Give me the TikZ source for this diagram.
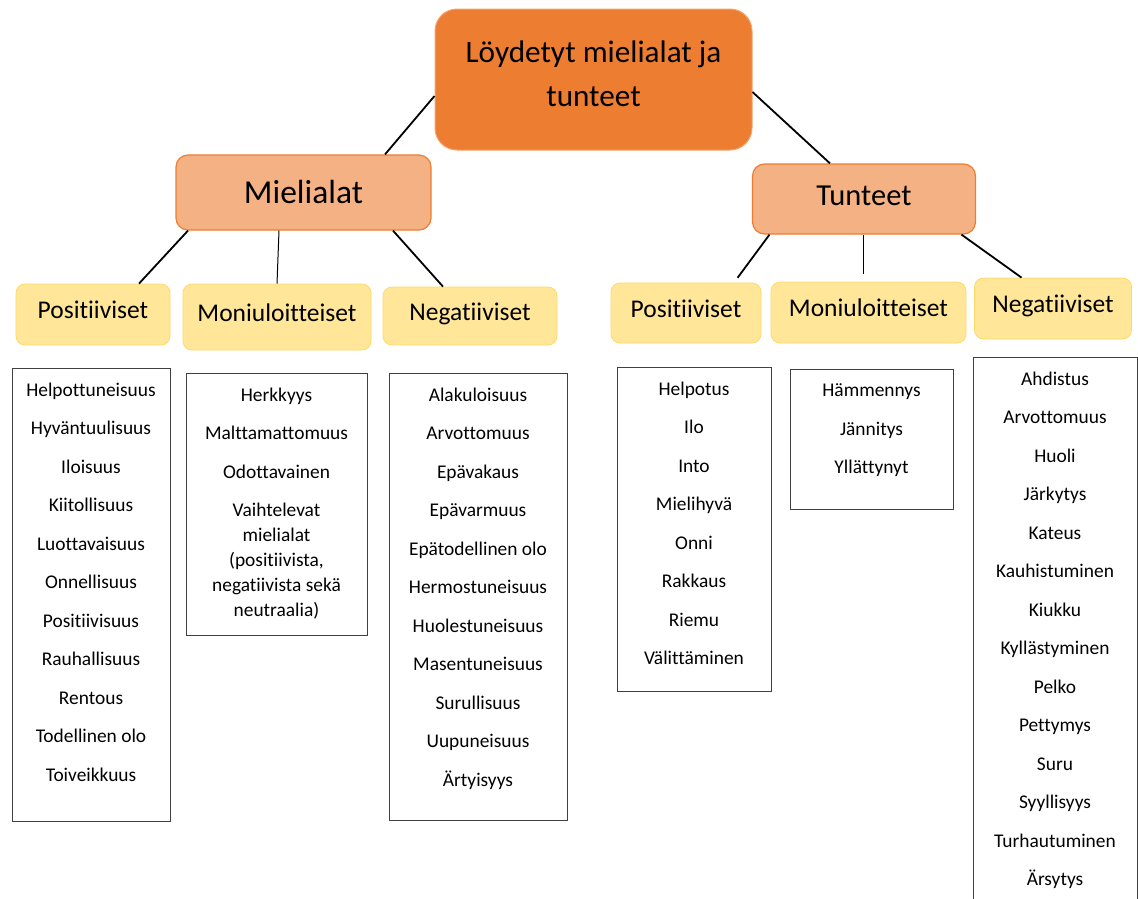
\documentclass[tikz,border=0pt]{standalone}
\usepackage{fontspec}
\setmainfont{Carlito}[Ligatures=NoCommon]
\usetikzlibrary{positioning}
\definecolor{oranssi}{RGB}{237,125,49}
\definecolor{persikka}{RGB}{244,177,131}
\definecolor{keltainen}{RGB}{255,230,153}
\definecolor{kulta}{RGB}{255,217,102}
\definecolor{reuna}{RGB}{64,64,64}

\begin{document}
\begin{tikzpicture}[x=1pt,y=-1pt,
  paa/.style={rounded corners=22pt,fill=oranssi,draw=oranssi!70!white,line width=1pt},
  paateksti/.style={align=center,inner sep=0pt,font=\fontsize{31.2}{44}\selectfont},
  ala/.style={rounded corners=12pt,fill=persikka,draw=oranssi,line width=1.2pt,text height=20pt,text depth=6.5pt},
  ryhma/.style={rounded corners=9pt,fill=keltainen,draw=kulta,line width=0.8pt,font=\fontsize{25.5}{30}\selectfont,text height=16.5pt,text depth=8.4pt},
  lista/.style={draw=reuna,fill=white,line width=1pt},
  sanat/.style={align=center,inner sep=0pt,font=\fontsize{19.4}{25}\selectfont,execute at begin node=\strut},
  link/.style={line width=1.8pt},
  ohut/.style={line width=1pt}]
\useasboundingbox (0,0) rectangle (1138,898);
\clip (0,0) rectangle (1138,898);

\node[paa,minimum width=317,minimum height=141] (root) at (593.5,79.5) {};
\node[paateksti] (roott) at ([yshift=5.5pt]root.center) {Löydetyt mielialat ja\\tunteet};

\node[ala,minimum width=255,minimum height=75,font=\fontsize{33.5}{40}\selectfont,text height=26pt,text depth=4.5pt] (mie) at (303.5,192.5) {Mielialat};
\node[ala,minimum width=223,minimum height=70,font=\fontsize{30.5}{36}\selectfont] (tun) at (864,199) {Tunteet};

\node[ryhma,minimum width=154,minimum height=61] (mp) at (93,314.5) {Positiiviset};
\node[ryhma,minimum width=188,minimum height=66] (mm) at (277,317) {Moniuloitteiset};
\node[ryhma,minimum width=174,minimum height=58] (mn) at (470,316) {Negatiiviset};
\node[ryhma,minimum width=150,minimum height=60] (tp) at (686,313) {Positiiviset};
\node[ryhma,minimum width=195,minimum height=61] (tm) at (868.5,312.5) {Moniuloitteiset};
\node[ryhma,minimum width=157,minimum height=61] (tn) at (1053,308.5) {Negatiiviset};

\draw[link] ([yshift=-16.5pt]root.west) -- ([xshift=81.5pt]mie.north);
\draw[link] ([yshift=-12.5pt]root.east) -- ([xshift=-34pt]tun.north);
\draw[link] ([xshift=-115.5pt]mie.south) -- ([xshift=46pt]mp.north);
\draw[ohut] ([xshift=-24.5pt]mie.south) -- (mm.north);
\draw[link] ([xshift=89.5pt]mie.south) -- ([xshift=-27pt]mn.north);
\draw[link,shorten >=6pt] ([xshift=-94.5pt]tun.south) -- ([xshift=48pt]tp.north);
\draw[ohut,shorten >=8pt] ([xshift=-0.5pt]tun.south) -- ([xshift=-5pt]tm.north);
\draw[link] ([xshift=97.5pt]tun.south) -- ([xshift=-31.5pt]tn.north);

\node[lista,minimum width=158,minimum height=453] (mpl) at (91,594.5) {};
\node[sanat,below=15pt of mpl.north] (mplt) {Helpottuneisuus\\[13.5pt]Hyväntuulisuus\\[13.5pt]Iloisuus\\[13.5pt]Kiitollisuus\\[13.5pt]Luottavaisuus\\[13.5pt]Onnellisuus\\[13.5pt]Positiivisuus\\[13.5pt]Rauhallisuus\\[13.5pt]Rentous\\[13.5pt]Todellinen olo\\[13.5pt]Toiveikkuus};

\node[lista,minimum width=181,minimum height=262] (mml) at (276.5,504) {};
\node[sanat,below=15pt of mml.north] (mmlt) {Herkkyys\\[13.5pt]Malttamattomuus\\[13.5pt]Odottavainen\\[13.5pt]Vaihtelevat\\mielialat\\(positiivista,\\negatiivista sekä\\neutraalia)};

\node[lista,minimum width=178,minimum height=447] (mnl) at (478,596.5) {};
\node[sanat,below=15pt of mnl.north] (mnlt) {Alakuloisuus\\[13.5pt]Arvottomuus\\[13.5pt]Epävakaus\\[13.5pt]Epävarmuus\\[13.5pt]Epätodellinen olo\\[13.5pt]Hermostuneisuus\\[13.5pt]Huolestuneisuus\\[13.5pt]Masentuneisuus\\[13.5pt]Surullisuus\\[13.5pt]Uupuneisuus\\[13.5pt]Ärtyisyys};

\node[lista,minimum width=154,minimum height=324] (tpl) at (694,529) {};
\node[sanat,below=15pt of tpl.north] (tplt) {Helpotus\\[13.5pt]Ilo\\[13.5pt]Into\\[13.5pt]Mielihyvä\\[13.5pt]Onni\\[13.5pt]Rakkaus\\[13.5pt]Riemu\\[13.5pt]Välittäminen};

\node[lista,minimum width=163,minimum height=140] (tml) at (871.5,439) {};
\node[sanat,below=15pt of tml.north] (tmlt) {Hämmennys\\[13.5pt]Jännitys\\[13.5pt]Yllättynyt};

\node[lista,minimum width=164,minimum height=553] (tnl) at (1055,633.5) {};
\node[sanat,below=15pt of tnl.north] (tnlt) {Ahdistus\\[13.5pt]Arvottomuus\\[13.5pt]Huoli\\[13.5pt]Järkytys\\[13.5pt]Kateus\\[13.5pt]Kauhistuminen\\[13.5pt]Kiukku\\[13.5pt]Kyllästyminen\\[13.5pt]Pelko\\[13.5pt]Pettymys\\[13.5pt]Suru\\[13.5pt]Syyllisyys\\[13.5pt]Turhautuminen\\[13.5pt]Ärsytys};
\end{tikzpicture}
\end{document}
